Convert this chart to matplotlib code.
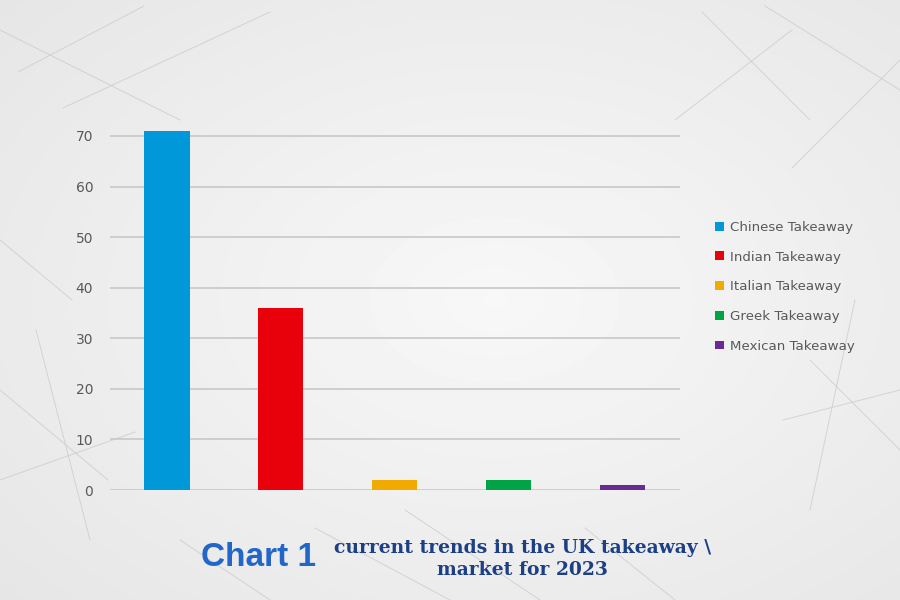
import numpy as np
import matplotlib
matplotlib.use("Agg")
import matplotlib.pyplot as plt
from matplotlib.patches import Patch

categories = ["Chinese Takeaway", "Indian Takeaway", "Italian Takeaway",
              "Greek Takeaway", "Mexican Takeaway"]
values = [71, 36, 2, 2, 1]
colors = ["#0098d8", "#e8000b", "#f0aa00", "#00a444", "#6a2a96"]
yticks = [0, 10, 20, 30, 40, 50, 60, 70]

fig = plt.figure(figsize=(9, 6), dpi=100)

# background gradient
bg = fig.add_axes([0, 0, 1, 1], zorder=-10)
yy, xx = np.mgrid[0:1:200j, 0:1:300j]
r = np.sqrt(((xx - 0.55) / 0.75) ** 2 + ((yy - 0.5) / 0.75) ** 2)
img = 0.97 - 0.07 * np.clip(r, 0, 1)
bg.imshow(img, cmap="gray", vmin=0, vmax=1, extent=[0, 1, 0, 1], aspect="auto")
# faint decorative network lines
segs = [((0.0, 0.95), (0.2, 0.8)), ((0.07, 0.82), (0.3, 0.98)), ((0.02, 0.88), (0.16, 0.99)),
        ((0.78, 0.98), (0.9, 0.8)), ((0.85, 0.99), (1.0, 0.85)), ((0.88, 0.72), (1.0, 0.9)),
        ((0.0, 0.35), (0.12, 0.2)), ((0.0, 0.2), (0.15, 0.28)), ((0.04, 0.45), (0.1, 0.1)),
        ((0.9, 0.4), (1.0, 0.25)), ((0.87, 0.3), (1.0, 0.35)), ((0.95, 0.5), (0.9, 0.15)),
        ((0.35, 0.12), (0.5, 0.0)), ((0.45, 0.15), (0.6, 0.0)), ((0.65, 0.12), (0.75, 0.0)),
        ((0.2, 0.1), (0.3, 0.0)), ((0.75, 0.8), (0.88, 0.95)), ((0.0, 0.6), (0.08, 0.5))]
for (x0, y0), (x1, y1) in segs:
    bg.plot([x0, x1], [y0, y1], color="#c8c8c8", lw=0.7, alpha=0.7)
bg.set_xlim(0, 1)
bg.set_ylim(0, 1)
bg.axis("off")

ax = fig.add_axes([0.122, 0.1833, 0.633, 0.607])
ax.patch.set_alpha(0)
x = np.arange(len(categories))
ax.bar(x, values, width=0.4, color=colors, zorder=3)
ax.set_xlim(-0.5, len(categories) - 0.5)
ax.set_ylim(0, 72)
ax.set_yticks(yticks)
ax.set_xticks([])
for s in ax.spines.values():
    s.set_visible(False)
for t in yticks:
    ax.axhline(t, color="#c8c8c8", lw=1.2, zorder=1)
ax.tick_params(axis="y", length=0, pad=12, labelsize=10, labelcolor="#595959")

handles = [Patch(facecolor=c, edgecolor="none", label=l) for c, l in zip(colors, categories)]
fig.legend(handles=handles, loc="center left", bbox_to_anchor=(0.781, 0.522),
           frameon=False, fontsize=9.6, labelcolor="#595959",
           handlelength=0.65, handleheight=0.65, handletextpad=0.45, labelspacing=1.25)

fig.text(0.287, 0.07, "Chart 1", color="#2166c8", fontsize=24, fontweight="bold",
         ha="center", va="center", family=["Liberation Sans", "DejaVu Sans"])
fig.text(0.581, 0.087, "current trends in the UK takeaway \\", color="#1c3f85",
         fontsize=13.5, fontweight="bold", ha="center", va="center", family="DejaVu Serif")
fig.text(0.581, 0.05, "market for 2023", color="#1c3f85",
         fontsize=13.5, fontweight="bold", ha="center", va="center", family="DejaVu Serif")

fig.savefig("out.png", dpi=100)
